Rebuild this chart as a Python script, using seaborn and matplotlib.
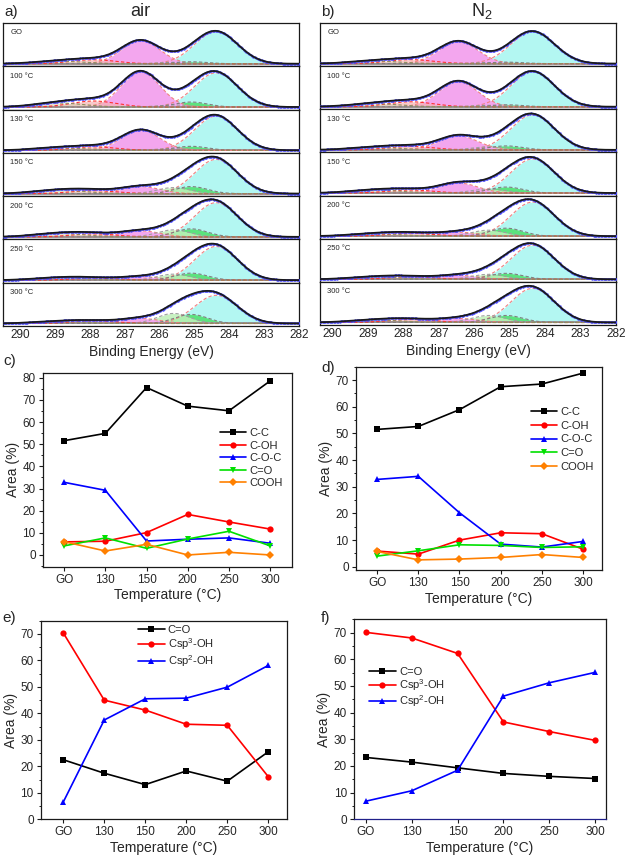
import numpy as np
import pandas as pd
import matplotlib
matplotlib.use("Agg")
import matplotlib.pyplot as plt
from matplotlib.lines import Line2D
from matplotlib.ticker import AutoMinorLocator
import seaborn as sns

sns.set_theme(style="ticks")
plt.rcParams['font.family'] = ['Liberation Sans', 'DejaVu Sans']
plt.rcParams['mathtext.default'] = 'regular'

# ---------------- XPS deconvolution (peak parameters) ----------------
xps_samples = ["GO", "100 °C", "130 °C", "150 °C", "200 °C", "250 °C", "300 °C"]
xps_ticks = [290, 289, 288, 287, 286, 285, 284, 283, 282]
comp_names = ["Csp2", "Csp3", "C-OH", "C-O-C", "C=O", "COOH"]
comp_centers_air = [284.38, 285.1, 285.6, 286.55, 287.9, 288.9]
comp_centers_n2 = [284.35, 285.1, 285.6, 286.45, 287.8, 288.8]
comp_fwhm = [1.45, 1.1, 1.1, 1.3, 1.5, 1.7]
# heights (in sub-panel units, one per sample)
air_csp2 = [32, 34, 34, 34, 34, 33.5, 28]
air_csp3 = [2, 5, 4, 7, 8, 7, 9]
air_coh = [1.5, 2, 2, 6, 7, 6, 10]
air_coc = [23, 35, 20, 7, 6, 3.5, 5]
air_co = [4, 6, 3.5, 3, 3, 2, 2.5]
air_cooh = [2.5, 4, 2.5, 3.5, 3.5, 2.5, 2]
n2_csp2 = [32, 35, 35, 34, 34, 34, 34]
n2_csp3 = [1.5, 2, 4, 6, 8, 6, 7]
n2_coh = [1, 1.5, 3, 4, 6, 5, 7]
n2_coc = [22, 25, 14, 10, 4, 4, 4]
n2_co = [4, 5, 3.5, 3, 3, 2.5, 3]
n2_cooh = [2.5, 3, 2.5, 3, 2.5, 2.5, 2.5]

# ---------------- Area (%) data ----------------
temps = ["GO", "130", "150", "200", "250", "300"]
c_series = ["C-C", "C-OH", "C-O-C", "C=O", "COOH"]
air_cc = [51.6, 54.9, 75.6, 67.2, 65.1, 78.6]
air_coh_area = [5.9, 6.2, 10.1, 18.3, 14.9, 11.7]
air_coc_area = [32.8, 29.2, 6.3, 7.1, 7.7, 5.3]
air_co_area = [4.1, 7.7, 3.0, 7.2, 10.7, 4.1]
air_cooh_area = [6.0, 1.8, 4.8, 0.0, 1.2, 0.0]
n2_cc = [51.5, 52.6, 58.9, 67.5, 68.5, 72.6]
n2_coh_area = [5.9, 4.75, 10.0, 12.75, 12.4, 6.6]
n2_coc_area = [32.75, 33.9, 20.25, 8.5, 7.4, 9.5]
n2_co_area = [4.0, 6.0, 8.25, 8.0, 7.25, 7.5]
n2_cooh_area = [5.75, 2.6, 2.9, 3.5, 4.6, 3.5]

o_series = ["C=O", "Csp$^3$-OH", "Csp$^2$-OH"]
air_o_co = [22.5, 17.4, 13.1, 18.25, 14.4, 25.5]
air_o_sp3 = [70.4, 45.0, 41.25, 35.9, 35.5, 16.1]
air_o_sp2 = [6.5, 37.5, 45.5, 45.75, 49.9, 58.1]
n2_o_co = [23.2, 21.45, 19.3, 17.2, 16.1, 15.3]
n2_o_sp3 = [70.1, 68.0, 62.2, 36.5, 32.9, 29.6]
n2_o_sp2 = [6.8, 10.7, 18.4, 46.2, 51.2, 55.1]

W, H = 628, 858
fig = plt.figure(figsize=(W / 100, H / 100), dpi=100)


def rect(x0, y0, x1, y1):
    return [x0 / W, 1 - y1 / H, (x1 - x0) / W, (y1 - y0) / H]


fills = ['#B3F7F2', '#4CE06A', '#BFF0B8', '#F3A6EE', '#F6B2B2', '#D6CFB5']
edges = ['#F08080', '#808080', '#A0A0A0', '#F08080', '#FF3030', '#909060']
fill_alpha = [1.0, 0.85, 0.85, 1.0, 0.7, 0.6]
E = np.linspace(290.8, 281.8, 900)


def gauss(c, h, w):
    return h * np.exp(-4 * np.log(2) * (E - c) ** 2 / w ** 2)


def xps_panel(px0, py0, px1, py1, centers, heights, xlim, title, letter, title_x):
    n = len(xps_samples)
    hh = (py1 - py0) / n
    for i, lab in enumerate(xps_samples):
        ax = fig.add_axes(rect(px0, py0 + i * hh, px1, py0 + (i + 1) * hh))
        comps = [gauss(c, hs[i], w) for c, w, hs in zip(centers, comp_fwhm, heights)]
        env = np.sum(comps, axis=0)
        order = [0, 3, 2, 1, 4, 5]
        for k in order:
            ax.fill_between(E, 0, comps[k], color=fills[k], lw=0, alpha=fill_alpha[k], zorder=1 + k * 0.1)
        for k in order:
            ax.plot(E, comps[k], color=edges[k], lw=0.8, ls=(0, (3, 2)), zorder=3)
        ax.axhline(0, color='#8a8a8a', lw=1.2, zorder=2)
        ax.plot(E[::4], env[::4], ls='none', marker='.', color='#4a4aff', ms=1.6, zorder=4)
        sns.lineplot(x=E, y=env, color='k', lw=1.3, ax=ax, zorder=5)
        ax.set_xlim(*xlim)
        ax.set_ylim(-2.5, 40.5)
        ax.set_yticks([])
        ax.set_ylabel("")
        for s in ax.spines.values():
            s.set_color('k')
            s.set_linewidth(0.9)
        ax.text(0.025, 0.77, lab, transform=ax.transAxes, fontsize=5.5, va='center', ha='left')
        if i < n - 1:
            ax.set_xticks([])
        else:
            ax.set_xticks(xps_ticks)
            ax.set_xticklabels([str(t) for t in xps_ticks], fontsize=8.5)
            ax.tick_params(axis='x', length=0, pad=2)
            ax.set_xlabel("Binding Energy (eV)", fontsize=10, labelpad=3)
    fig.text(title_x / W, 1 - 11 / H, title, fontsize=13, ha='center', va='center')
    fig.text((px0 + 1) / W, 1 - 12 / H, letter, fontsize=11, ha='left', va='center')


xps_panel(3, 23, 299, 326, comp_centers_air,
          [air_csp2, air_csp3, air_coh, air_coc, air_co, air_cooh],
          (290.5, 282.0), "air", "a)", 140)
xps_panel(320, 23, 616, 325, comp_centers_n2,
          [n2_csp2, n2_csp3, n2_coh, n2_coc, n2_co, n2_cooh],
          (290.35, 282.0), "N$_2$", "b)", 482)

c_colors = ['#000000', '#FF0000', '#0000FF', '#00E000', '#FF8000']
c_markers = ['s', 'o', '^', 'v', 'D']
o_colors = ['#000000', '#FF0000', '#0000FF']
o_markers = ['s', 'o', '^']


def line_panel(r, names, vals, colors, markers, ylim, yticks, xlim, anchor, lspace, letter, letter_xy):
    ax = fig.add_axes(r)
    rows = []
    for nm, vv in zip(names, vals):
        for i, v in enumerate(vv):
            rows.append({"x": i, "y": v, "s": nm})
    df = pd.DataFrame(rows)
    sns.lineplot(data=df, x="x", y="y", hue="s", style="s", palette=colors,
                 markers=markers, dashes=False, ax=ax, lw=1.2, markersize=4.5,
                 markeredgewidth=0, legend=False)
    ax.set_xlim(*xlim)
    ax.set_ylim(*ylim)
    ax.set_yticks(yticks)
    ax.set_yticklabels([str(t) for t in yticks], fontsize=8.5)
    ax.yaxis.set_minor_locator(AutoMinorLocator(2))
    ax.set_xticks(range(len(temps)))
    ax.set_xticklabels(temps, fontsize=8.5)
    ax.tick_params(which='major', direction='out', length=3, width=0.8, pad=2, color='k')
    ax.tick_params(which='minor', axis='y', direction='out', length=1.8, width=0.7, color='k')
    ax.set_ylabel("Area (%)", fontsize=10, labelpad=2)
    ax.set_xlabel("Temperature (°C)", fontsize=10, labelpad=2)
    for s in ax.spines.values():
        s.set_color('k')
        s.set_linewidth(0.9)
    handles = [Line2D([], [], color=c, marker=m, lw=1.2, ms=4.5, mew=0) for c, m in zip(colors, markers)]
    ax.legend(handles, names, loc='center left', bbox_to_anchor=anchor, frameon=False,
              fontsize=8, handlelength=2.4, handletextpad=0.3, labelspacing=lspace,
              borderaxespad=0, borderpad=0)
    fig.text(letter_xy[0] / W, 1 - letter_xy[1] / H, letter, fontsize=11, ha='left', va='center')
    return ax


line_panel(rect(42.7, 372.7, 292, 566.7), c_series,
           [air_cc, air_coh_area, air_coc_area, air_co_area, air_cooh_area],
           c_colors, c_markers, (-5.3, 82.3), [0, 10, 20, 30, 40, 50, 60, 70, 80],
           (-0.52, 5.53), (0.71, 0.56), 0.22, "c)", (3, 361))
line_panel(rect(355.7, 366.7, 602, 570), c_series,
           [n2_cc, n2_coh_area, n2_coc_area, n2_co_area, n2_cooh_area],
           c_colors, c_markers, (-1.2, 75), [0, 10, 20, 30, 40, 50, 60, 70],
           (-0.52, 5.46), (0.71, 0.642), 0.33, "d)", (321, 368))
line_panel(rect(40.7, 620.7, 286.7, 819.3), o_series,
           [air_o_co, air_o_sp3, air_o_sp2],
           o_colors, o_markers, (0, 75), [0, 10, 20, 30, 40, 50, 60, 70],
           (-0.55, 5.45), (0.395, 0.868), 0.1, "e)", (2, 618))
axf = line_panel(rect(354, 619.3, 605.7, 819.3), o_series,
                 [n2_o_co, n2_o_sp3, n2_o_sp2],
                 o_colors, o_markers, (0, 75), [0, 10, 20, 30, 40, 50, 60, 70],
                 (-0.26, 5.23), (0.06, 0.657), 0.0, "f)", (321, 618))
axf.spines['bottom'].set_color('#20208a')

fig.savefig("out.png", dpi=100)
